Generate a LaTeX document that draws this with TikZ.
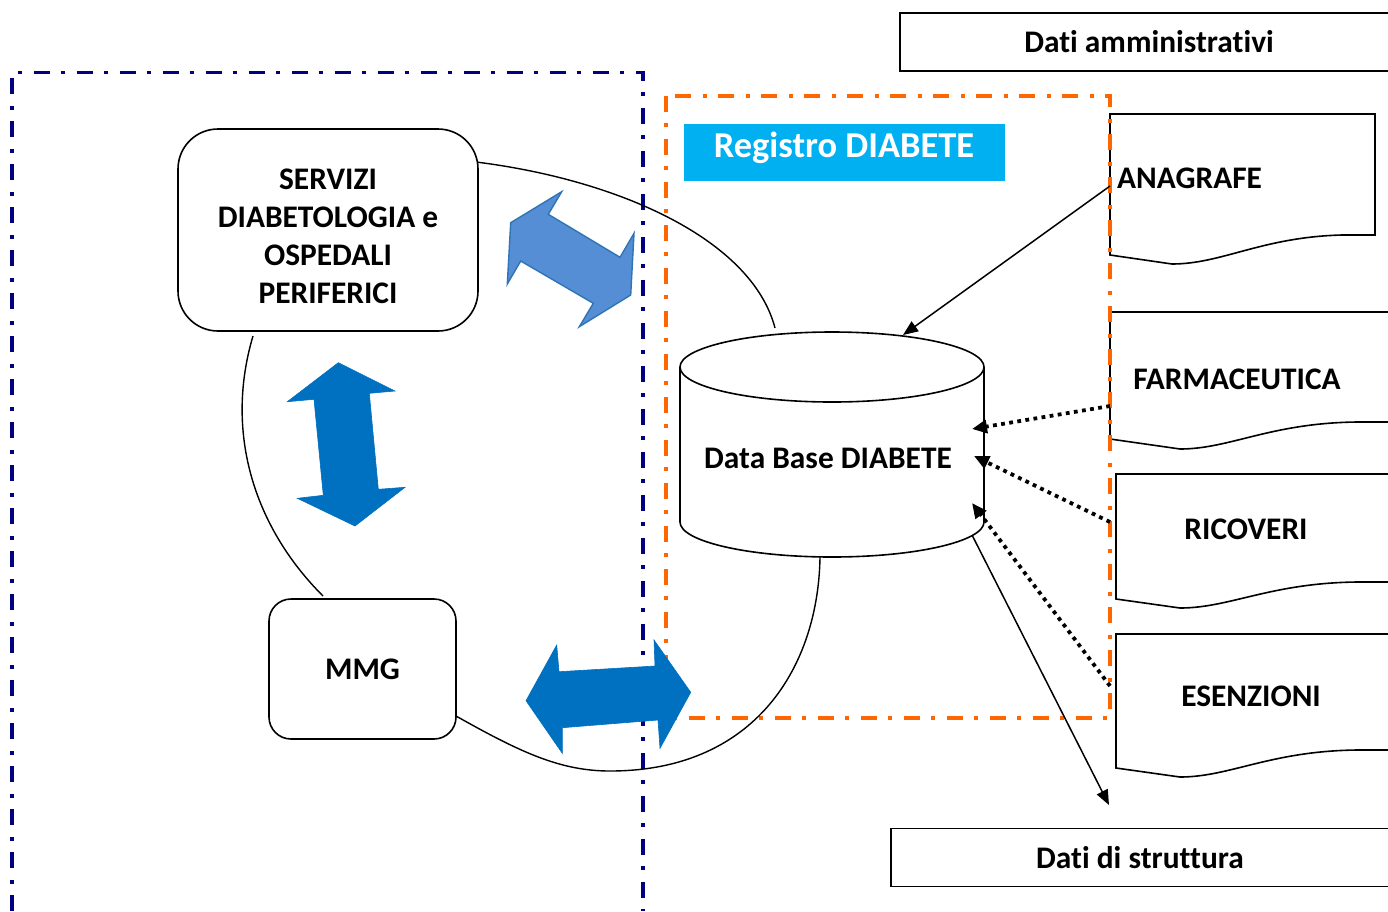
\documentclass[tikz,border=0pt]{standalone}
\usepackage{fontspec}
\setmainfont{Carlito}[Ligatures=NoCommon]
\usetikzlibrary{arrows.meta}
\definecolor{navyline}{RGB}{0,0,128}
\definecolor{orangeline}{RGB}{255,102,0}
\definecolor{regcyan}{RGB}{0,176,240}
\definecolor{arrowblue}{RGB}{0,112,192}
\definecolor{lightarrow}{RGB}{85,142,213}
\definecolor{lightarrowedge}{RGB}{46,117,182}
\begin{document}
\begin{tikzpicture}[x=1pt,y=-1pt,
  lbl/.style={font=\fontsize{31.4}{38}\selectfont\bfseries, align=center},
  frameblue/.style={navyline,line width=3.3pt,dash pattern=on 16pt off 11pt on 4pt off 12pt},
  frameorange/.style={orangeline,line width=3.3pt,dash pattern=on 16pt off 11pt on 4pt off 12pt},
  rbox/.style={draw=black,line width=1.6pt,fill=white,inner sep=0pt},
  plainbox/.style={draw=black,line width=1.8pt,fill=white,inner sep=0pt},
  docshape/.style={draw=black,line width=1.6pt,fill=white},
  link/.style={draw=black,line width=1.4pt},
  solidarrow/.style={draw=black,line width=1.5pt,-{Triangle[length=15pt,width=12pt]}},
  dotarrow/.style={draw=black,line width=3.8pt,dash pattern=on 3.8pt off 4.4pt,-{Triangle[length=15pt,width=13pt]}},
  bigarrow/.style={fill=arrowblue,draw=arrowblue,line width=0.6pt},
  bigarrowlight/.style={fill=lightarrow,draw=lightarrowedge,line width=1.4pt}
]
\useasboundingbox (0,0) rectangle (1388,911);
\clip (0,0) rectangle (1388,911);
\fill[white] (0,0) rectangle (1388,911);

% documents on the right
\path[docshape] (1110,114) -- (1375,114) -- (1375,235) -- (1342,235) .. controls (1262,237) and (1222,264) .. (1172,264) -- (1110,255) -- cycle;
\path[docshape] (1110,312) -- (1400,312) -- (1400,422) -- (1357,422) .. controls (1270,423) and (1230,449) .. (1180,449) -- (1110,439) -- cycle;
\path[docshape] (1116,474) -- (1400,474) -- (1400,582) -- (1357,582) .. controls (1270,583) and (1230,608) .. (1180,608) -- (1116,599) -- cycle;
\path[docshape] (1116,634) -- (1400,634) -- (1400,750) -- (1357,750) .. controls (1270,751) and (1230,777) .. (1180,777) -- (1116,768) -- cycle;
\node[lbl, anchor=west, inner sep=0pt] (anagrafe) at (1117,178) {ANAGRAFE};
\node[lbl] (farma) at (1237,379) {FARMACEUTICA};
\node[lbl] (ricoveri) at (1246,529) {RICOVERI};
\node[lbl] (esenzioni) at (1251,696) {ESENZIONI};

% top / bottom boxes
\node[plainbox, minimum width=498pt, minimum height=58pt, lbl] (amm) at (1149,42) {Dati amministrativi};
\node[plainbox, minimum width=498pt, minimum height=58pt, lbl] (strut) at (1140,857.5) {Dati di struttura};

% frames
\draw[frameblue] (12,911) -- (12,72.5) -- (643,72.5) -- (643,911);
\draw[frameorange] (666,96) rectangle (1110,718);

% Registro label
\node[fill=regcyan, minimum width=321pt, minimum height=57pt, inner sep=0pt] (registro) at (844.5,152.5) {};
\node[text=white, font=\fontsize{36.4}{40}\selectfont\bfseries] (registrotxt) at (844,148) {Registro DIABETE};

% curves
\draw[link] (476,162) .. controls (620,180) and (752,240) .. (775,328);
\draw[link] (253,336) .. controls (225,430) and (252,525) .. (323,596);
\draw[link] (456,716) .. controls (520,752) and (560,771) .. (610,771) .. controls (760,771) and (822,660) .. (820,547);

% boxes
\node[rbox, rounded corners=40pt, minimum width=300pt, minimum height=202pt] (servizi) at (328,230) {};
\node[lbl] (servizitxt) at (328,236) {SERVIZI\\DIABETOLOGIA e\\OSPEDALI\\PERIFERICI};
\node[rbox, rounded corners=22pt, minimum width=187pt, minimum height=140pt, lbl] (mmg) at (362.5,669) {MMG};

% cylinder
\path[draw=black,line width=1.6pt,fill=white] (680,367) -- (680,522) arc[start angle=180,end angle=360,x radius=152pt,y radius=35pt] -- (984,367);
\draw[line width=1.6pt,fill=white] (832,367) ellipse[x radius=152pt,y radius=35pt];
\node[lbl] (db) at (828,458) {Data Base DIABETE};

\coordinate (anaOut) at (1110,186);
\coordinate (dbTop) at (903,335);
\coordinate (farOut) at (1110,406);
\coordinate (dbR1) at (972,429);
\coordinate (ricOut) at (1110,522);
\coordinate (dbR2) at (974,456);
\coordinate (esOut) at (1110,686);
\coordinate (dbR3) at (972,503);
\coordinate (dbOut) at (972,535);
\coordinate (strutIn) at (1109,805);

\draw[solidarrow] (anaOut) -- (dbTop);
\draw[dotarrow] (farOut) -- (dbR1);
\draw[dotarrow] (ricOut) -- (dbR2);
\draw[dotarrow] (esOut) -- (dbR3);
\draw[solidarrow] (dbOut) -- (strutIn);

% block arrows
\path[bigarrowlight] (548.3,214.3) -- (561.7,191.7) -- (510.7,222.7) -- (507.3,284) -- (520.7,261) -- (593.3,303.3) -- (579.3,326.7) -- (630.7,295) -- (634,233.3) -- (620,257.3) -- cycle;
\path[bigarrow] (338.3,362.7) -- (395,391) -- (369.3,393.3) -- (378.3,489.3) -- (405,487.3) -- (355,526) -- (297.3,498.3) -- (323.3,495.3) -- (314,399.3) -- (287.3,401.7) -- cycle;
\path[bigarrow] (526,700.7) -- (556.7,645) -- (559,671.7) -- (655,666) -- (654,640) -- (690.7,692.3) -- (660,748.3) -- (658,720) -- (562.3,727.7) -- (562.3,753.3) -- cycle;
\end{tikzpicture}
\end{document}
